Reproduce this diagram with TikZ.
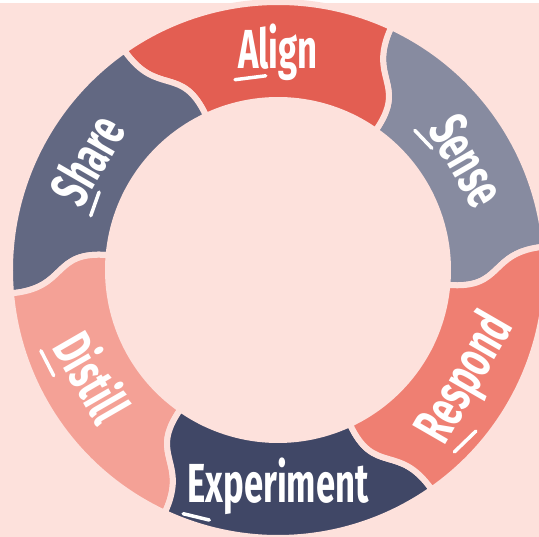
\documentclass[tikz,border=0pt]{standalone}
\usepackage{fontspec}
\usepackage{xcolor}
\usepackage{tikz}
\usetikzlibrary{calc}
\newfontfamily\ringfont[FakeStretch=0.63]{Fira Sans}
\definecolor{bgpink}{HTML}{FDE1DC}
\definecolor{alignred}{HTML}{E35E52}
\definecolor{sensegrey}{HTML}{878BA0}
\definecolor{respondsalmon}{HTML}{EF7F72}
\definecolor{experimentnavy}{HTML}{404766}
\definecolor{distillpink}{HTML}{F4A196}
\definecolor{shareslate}{HTML}{626882}

\begin{document}
\begin{tikzpicture}[x=1pt, y=1pt,
  seg/.style={draw=bgpink, line width=6pt, line join=round},
  every node/.style={font=\ringfont\bfseries\fontsize{55}{55}\selectfont, text=white, inner sep=0pt, text height=40pt, text depth=11pt},
  initmark/.style={draw=white, line width=3.5pt, line cap=round}]
\useasboundingbox (-278,-267) rectangle (261,270);
\fill[bgpink] (-278,-267) rectangle (261,266.5);
\fill[white] (-278,266.5) rectangle (261,270);

% ring segments, s-shaped joints
\path[seg, fill=sensegrey] (5:268) arc[start angle=5, end angle=65, radius=268pt] .. controls (65:210) and (55:228) .. (55:170) arc[start angle=55, end angle=-5, radius=170pt] .. controls (-5:228) and (5:210) .. (5:268) -- cycle;
\path[seg, fill=alignred] (65:268) arc[start angle=65, end angle=125, radius=268pt] .. controls (125:210) and (115:228) .. (115:170) arc[start angle=115, end angle=55, radius=170pt] .. controls (55:228) and (65:210) .. (65:268) -- cycle;
\path[seg, fill=shareslate] (125:268) arc[start angle=125, end angle=185, radius=268pt] .. controls (185:210) and (175:228) .. (175:170) arc[start angle=175, end angle=115, radius=170pt] .. controls (115:228) and (125:210) .. (125:268) -- cycle;
\path[seg, fill=distillpink] (185:268) arc[start angle=185, end angle=245, radius=268pt] .. controls (245:210) and (235:228) .. (235:170) arc[start angle=235, end angle=175, radius=170pt] .. controls (175:228) and (185:210) .. (185:268) -- cycle;
\path[seg, fill=experimentnavy] (245:268) arc[start angle=245, end angle=305, radius=268pt] .. controls (305:210) and (295:228) .. (295:170) arc[start angle=295, end angle=235, radius=170pt] .. controls (235:228) and (245:210) .. (245:268) -- cycle;
\path[seg, fill=respondsalmon] (305:268) arc[start angle=305, end angle=365, radius=268pt] .. controls (365:210) and (355:228) .. (355:170) arc[start angle=355, end angle=295, radius=170pt] .. controls (295:228) and (305:210) .. (305:268) -- cycle;

% labels
\node (align) at (90:216) {Align};
\node[rotate=-60] (sense) at (30:214) {Sense};
\node[rotate=60] (respond) at (-30:218) {Respond};
\node (experiment) at (-90:218) {Experiment};
\node[rotate=-60] (distill) at (210:220) {Distill};
\node[rotate=60] (share) at (150:215) {Share};

% first letter marks
\draw[initmark] ($(align.south west)!-3pt!(align.south east)$) -- ($(align.south west)!28pt!8:(align.south east)$);
\draw[initmark] ($(sense.south west)!-5pt!(sense.south east)$) -- ($(sense.south west)!20pt!17:(sense.south east)$);
\draw[initmark] ($(respond.south west)!0pt!(respond.south east)$) -- ($(respond.south west)!30pt!-16:(respond.south east)$);
\draw[initmark] ($(experiment.south west)!-4pt!(experiment.south east)$) -- ($(experiment.south west)!23pt!-16:(experiment.south east)$);
\draw[initmark] ($(distill.south west)!-2pt!(distill.south east)$) -- ($(distill.south west)!26pt!-3:(distill.south east)$);
\draw[initmark] ($(share.south west)!-1pt!(share.south east)$) -- ($(share.south west)!24pt!11:(share.south east)$);
\end{tikzpicture}
\end{document}
